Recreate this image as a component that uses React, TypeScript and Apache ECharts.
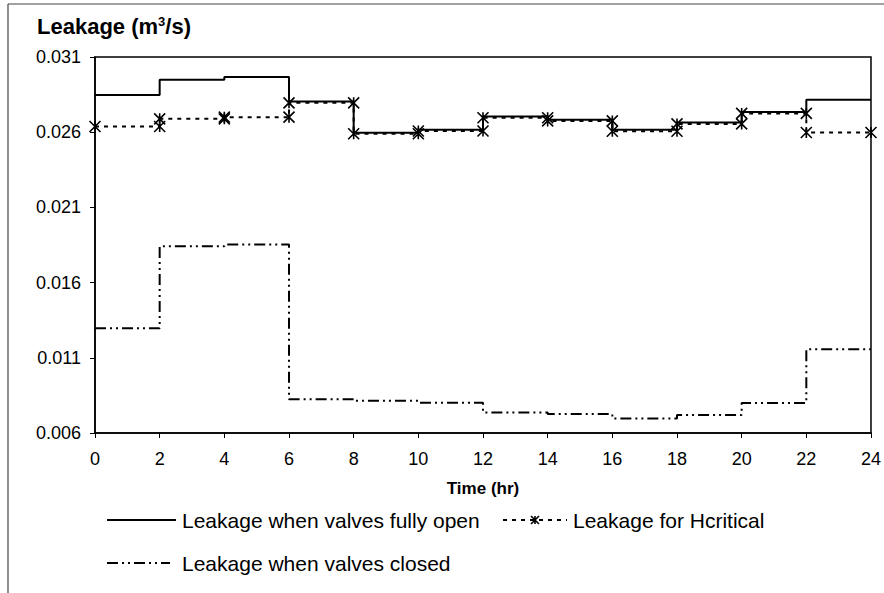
import React, { useEffect, useRef } from "react";
import * as echarts from "echarts";

// Interval start hours (each step lasts 2 h)
const stepStarts = [0, 2, 4, 6, 8, 10, 12, 14, 16, 18, 20, 22];
const stepLength = 2;
const xTicks = { min: 0, max: 24, interval: 2 };
const yTicks = { min: 0.006, max: 0.031, interval: 0.005 };

// Leakage (m3/s) per 2-hour interval
const fullyOpen = [0.02848, 0.02948, 0.02967, 0.02804, 0.02596, 0.02616, 0.02704, 0.02682, 0.02616, 0.02664, 0.02735, 0.02815];
const hCritical = [0.02638, 0.02689, 0.027, 0.02795, 0.0259, 0.02608, 0.02696, 0.02675, 0.02606, 0.02655, 0.02725, 0.02598];
const valvesClosed = [0.01296, 0.01842, 0.01853, 0.00825, 0.00814, 0.00801, 0.00737, 0.00726, 0.00697, 0.00719, 0.00799, 0.01157];

const seriesNames = [
  "Leakage when valves fully open",
  "Leakage for Hcritical",
  "Leakage when valves closed",
];

const FONT = "'Liberation Sans', Arial, sans-serif";

function toSteps(values: number[]) {
  const out: number[][] = [];
  values.forEach((v, i) => {
    out.push([stepStarts[i], v]);
    out.push([stepStarts[i] + stepLength, v]);
  });
  return out;
}

const ASTERISK = "path://M0,0L10,10M10,0L0,10M5,0L5,10";
const DASH_DOT = [11, 4, 2, 4, 2, 4];
const DOTTED = [4, 5];

echarts.graphic.registerShape(
  "asterisk",
  echarts.graphic.extendPath("M-4,-4L4,4M4,-4L-4,4M0,-4L0,4", {}) as any
);

export default function App() {
  const ref = useRef<HTMLDivElement>(null);
  useEffect(() => {
    if (!ref.current) return;
    const chart = echarts.init(ref.current, null, { renderer: "svg" });
    chart.setOption({
      animation: false,
      backgroundColor: "#fff",
      textStyle: { fontFamily: FONT },
      title: {
        text: "Leakage (m{sup|3}/s)",
        left: 32,
        top: 10,
        textStyle: {
          fontFamily: FONT,
          fontSize: 22,
          fontWeight: "bold",
          color: "#000",
          rich: {
            sup: { fontSize: 13, fontWeight: "bold", verticalAlign: "top", color: "#000", fontFamily: FONT },
          },
        },
      },
      grid: {
        left: 95,
        right: 12,
        top: 57,
        bottom: 160,
        show: true,
        borderColor: "#000",
        borderWidth: 1.5,
        backgroundColor: "transparent",
      },
      xAxis: {
        type: "value",
        min: xTicks.min,
        max: xTicks.max,
        interval: xTicks.interval,
        name: "Time (hr)",
        nameLocation: "middle",
        nameGap: 47,
        nameTextStyle: { fontFamily: FONT, fontSize: 17, fontWeight: "bold", color: "#000" },
        axisLine: { lineStyle: { color: "#000", width: 1.5 } },
        axisTick: { show: true, length: 5, lineStyle: { color: "#000" } },
        axisLabel: { fontSize: 18, color: "#000", margin: 17, fontFamily: FONT },
        splitLine: { show: false },
      },
      yAxis: {
        type: "value",
        min: yTicks.min,
        max: yTicks.max,
        interval: yTicks.interval,
        axisLine: { show: true, lineStyle: { color: "#000", width: 1.5 } },
        axisTick: { show: true, length: 5, lineStyle: { color: "#000" } },
        axisLabel: {
          fontSize: 18,
          color: "#000",
          margin: 14,
          fontFamily: FONT,
          formatter: (v: number) => v.toFixed(3),
        },
        splitLine: { show: false },
      },
      series: [
        {
          name: seriesNames[0],
          type: "line",
          data: toSteps(fullyOpen),
          showSymbol: false,
          symbol: "none",
          lineStyle: { color: "#000", width: 2, type: "solid" },
          z: 3,
        },
        {
          name: seriesNames[1],
          type: "line",
          data: toSteps(hCritical),
          symbol: ASTERISK,
          symbolSize: 11,
          showSymbol: true,
          itemStyle: { color: "transparent", borderColor: "#000", borderWidth: 1.6 },
          lineStyle: { color: "#000", width: 2, type: DOTTED },
          z: 4,
        },
        {
          name: seriesNames[2],
          type: "line",
          data: toSteps(valvesClosed),
          showSymbol: false,
          symbol: "none",
          lineStyle: { color: "#000", width: 2, type: DASH_DOT },
          z: 3,
        },
      ],
      graphic: [
        { type: "line", shape: { x1: 8, y1: 4, x2: 8, y2: 593 }, style: { stroke: "#444", lineWidth: 1.2 } },
        { type: "line", shape: { x1: 8, y1: 4, x2: 884, y2: 4 }, style: { stroke: "#444", lineWidth: 1.2 } },
        // legend row 1
        { type: "line", shape: { x1: 107, y1: 520, x2: 176, y2: 520 }, style: { stroke: "#000", lineWidth: 2 } },
        {
          type: "text",
          x: 182,
          y: 520,
          style: { text: seriesNames[0], font: `21px ${FONT}`, fill: "#000", align: "left", verticalAlign: "middle" },
        },
        { type: "line", shape: { x1: 503, y1: 520, x2: 567, y2: 520 }, style: { stroke: "#000", lineWidth: 2, lineDash: DOTTED } },
        { type: "asterisk", x: 535, y: 520, style: { stroke: "#000", lineWidth: 1.6, fill: "none" } },
        {
          type: "text",
          x: 573,
          y: 520,
          style: { text: seriesNames[1], font: `21px ${FONT}`, fill: "#000", align: "left", verticalAlign: "middle" },
        },
        // legend row 2
        { type: "line", shape: { x1: 107, y1: 563, x2: 170, y2: 563 }, style: { stroke: "#000", lineWidth: 2, lineDash: DASH_DOT } },
        {
          type: "text",
          x: 182,
          y: 563,
          style: { text: seriesNames[2], font: `21px ${FONT}`, fill: "#000", align: "left", verticalAlign: "middle" },
        },
      ],
    });
    return () => chart.dispose();
  }, []);
  return <div ref={ref} style={{ width: 884, height: 593, position: "fixed", left: 0, top: 0 }} />;
}
